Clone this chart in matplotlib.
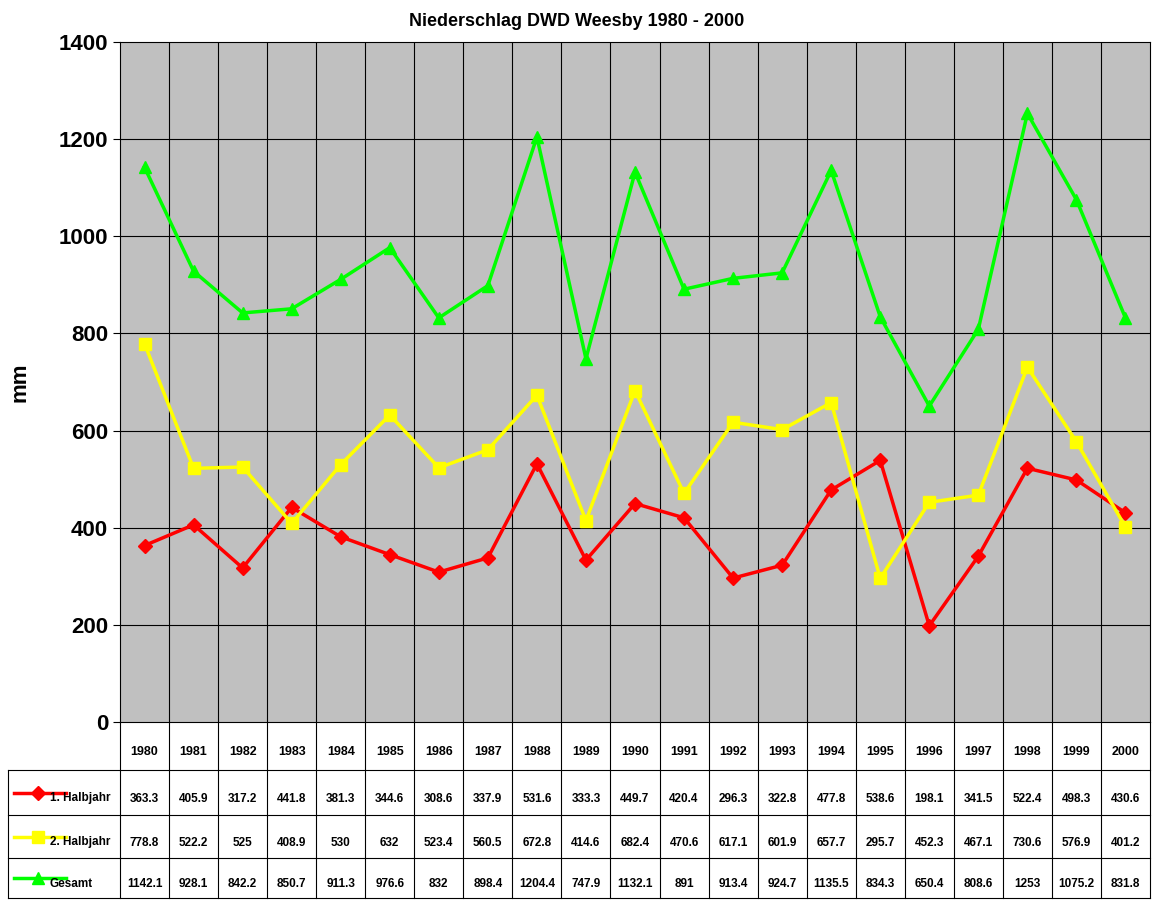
import matplotlib
matplotlib.use("Agg")
import matplotlib.pyplot as plt
import numpy as np

years = list(range(1980, 2001))
h1 = [363.3,405.9,317.2,441.8,381.3,344.6,308.6,337.9,531.6,333.3,449.7,420.4,296.3,322.8,477.8,538.6,198.1,341.5,522.4,498.3,430.6]
h2 = [778.8,522.2,525,408.9,530,632,523.4,560.5,672.8,414.6,682.4,470.6,617.1,601.9,657.7,295.7,452.3,467.1,730.6,576.9,401.2]
tot = [1142.1,928.1,842.2,850.7,911.3,976.6,832,898.4,1204.4,747.9,1132.1,891,913.4,924.7,1135.5,834.3,650.4,808.6,1253,1075.2,831.8]
labels = ["1. Halbjahr", "2. Halbjahr", "Gesamt"]
colors = ["#ff0000", "#ffff00", "#00ff00"]
markers = ["D", "s", "^"]
series = [h1, h2, tot]

plt.rcParams['font.family'] = ['Liberation Sans', 'DejaVu Sans']
W, H = 1152, 900
fig = plt.figure(figsize=(11.52, 9), dpi=100)
L, R, T, B = 120, 1150, 42, 722
ax = fig.add_axes([L/W, 1-B/H, (R-L)/W, (B-T)/H])
ax.set_facecolor("#c0c0c0")
n = len(years)
x = np.arange(n)
for s, c, m in zip(series, colors, markers):
    ax.plot(x, s, color=c, lw=2.5, marker=m, ms=9 if m != "D" else 7, zorder=3)
ax.set_xlim(-0.5, n-0.5)
ax.set_ylim(0, 1400)
ax.set_yticks(range(0, 1401, 200))
ax.set_yticklabels([str(v) for v in range(0, 1401, 200)], fontsize=16, fontweight='bold')
ax.set_xticks([])
for v in range(200, 1400, 200):
    ax.axhline(v, color='black', lw=0.8, zorder=1)
for i in range(1, n):
    ax.axvline(i-0.5, color='black', lw=0.8, zorder=1)
for sp in ax.spines.values():
    sp.set_color('black')
ax.tick_params(axis='y', length=5)
ax.set_ylabel("mm", fontsize=16, fontweight='bold', labelpad=20)
fig.text(577/W, 1-22/H, "Niederschlag DWD Weesby 1980 - 2000", ha='center', va='center', fontsize=13, fontweight='bold')

# table overlay
ov = fig.add_axes([0, 0, 1, 1], facecolor='none')
ov.set_xlim(0, W); ov.set_ylim(H, 0); ov.axis('off')
cw = (R-L)/n
rows_y = [770, 815, 858, 898]
for i in range(n+1):
    ov.plot([L+i*cw]*2, [B, 898], color='black', lw=0.8)
for y in rows_y:
    ov.plot([8, R], [y, y], color='black', lw=0.8)
ov.plot([8, 8], [770, 898], color='black', lw=0.8)
for i, yr in enumerate(years):
    ov.text(L+(i+0.5)*cw, 752, str(yr), ha='center', va='center', fontsize=9, fontweight='bold')
for r, (s, c, m, lab) in enumerate(zip(series, colors, markers, labels)):
    yc = (rows_y[r]+rows_y[r+1])/2 + 6
    ov.plot([14, 66], [yc-6, yc-6], color=c, lw=2.5)
    ov.plot([38], [yc-6], color=c, marker=m, ms=9 if m != "D" else 7)
    ov.text(50, yc, lab, ha='left', va='center', fontsize=8.5, fontweight='bold')
    for i, v in enumerate(s):
        ov.text(L+(i+0.5)*cw, yc, f"{v:g}", ha='center', va='center', fontsize=8.5, fontweight='bold')

fig.savefig("out.png", dpi=100, facecolor='white')
